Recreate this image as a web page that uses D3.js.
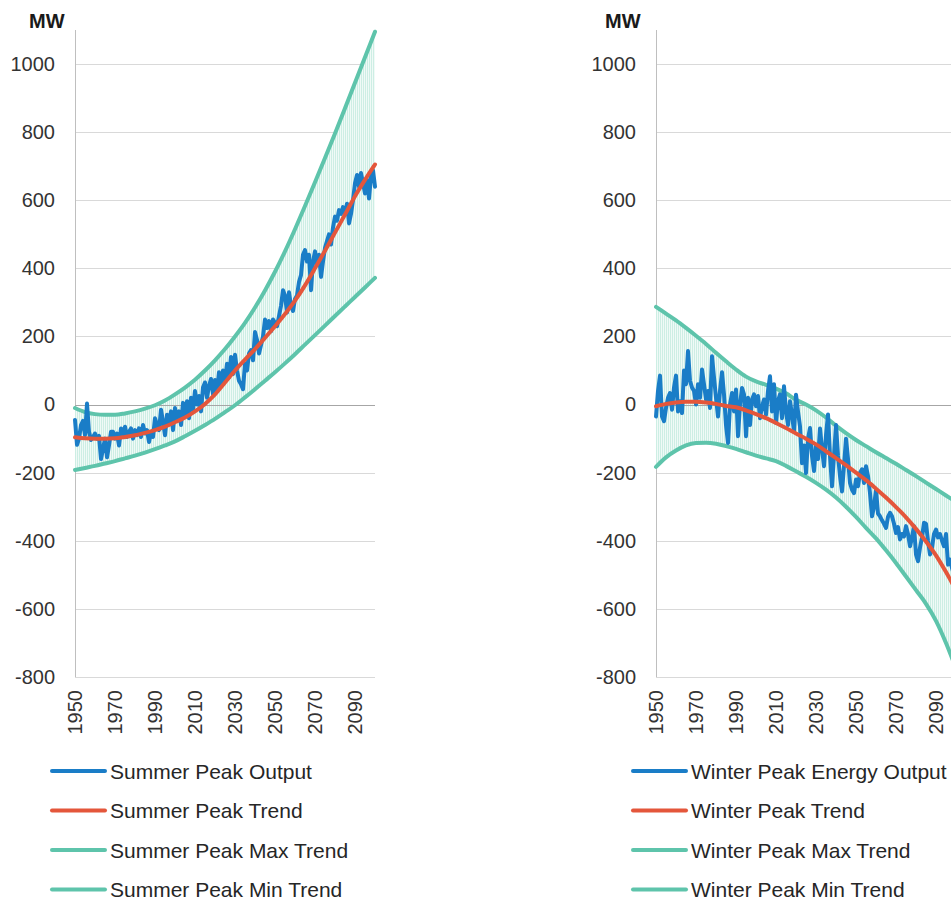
<!DOCTYPE html>
<html>
<head>
<meta charset="utf-8">
<script src="https://cdn.jsdelivr.net/npm/d3@7"></script>
<style>
  body { margin: 0; background: #ffffff; }
  text { font-family: "Liberation Sans", Arial, sans-serif; }
</style>
</head>
<body>
<svg id="chart" width="951" height="901"></svg>
<script>
// ---- data -------------------------------------------------------------
const startYear = 1950;
const endYear = 2100;
const yTicks = [-800, -600, -400, -200, 0, 200, 400, 600, 800, 1000];
const yearTicks = [1950, 1970, 1990, 2010, 2030, 2050, 2070, 2090];

// trend curves sampled every five years
const trendYears = [1950, 1955, 1960, 1965, 1970, 1975, 1980, 1985, 1990, 1995,
  2000, 2005, 2010, 2015, 2020, 2025, 2030, 2035, 2040, 2045,
  2050, 2055, 2060, 2065, 2070, 2075, 2080, 2085, 2090, 2095, 2100];

// annual summer peak output, 1950-2100 (MW)
const summerOutput = [
  -45, -118, -100, -60, -48, -90, 3, -80, -104, -95,
  -85, -100, -92, -160, -130, -100, -155, -120, -80, -80,
  -100, -85, -120, -70, -90, -65, -95, -80, -70, -100,
  -75, -90, -70, -95, -60, -85, -75, -110, -80, -95,
  -40, -60, -75, -15, -50, -90, -30, -55, -20, -75,
  -10, -45, -20, -60, 5, -30, 10, -40, 20, -15,
  40, 0, 25, -20, 50, 65, 20, 55, 75, 30,
  72, 40, 95, 55, 100, 70, 120, 80, 140, 90,
  146, 100, 70, 60, 45, 120, 100, 150, 160, 130,
  213, 190, 150, 175, 200, 250, 225, 245, 215, 250,
  240, 230, 260, 290, 336, 320, 270, 330, 290, 275,
  310, 320, 360, 380, 440, 454, 420, 440, 336, 420,
  450, 410, 440, 375, 420, 460, 480, 500, 470, 520,
  552, 540, 571, 560, 580, 560, 590, 532, 560, 600,
  650, 674, 640, 680, 650, 620, 660, 605, 670, 688,
  640
];
const summerTrend = [-96, -99, -100, -100, -99, -95, -90, -83, -75, -65,
  -52, -38, -20, 2, 30, 65, 100, 132, 163, 196,
  230, 266, 305, 350, 400, 452, 505, 558, 612, 660, 705];
const summerMax = [-10, -22, -28, -30, -30, -26, -20, -12, -2, 12,
  30, 50, 73, 100, 130, 163, 200, 240, 285, 335,
  390, 450, 515, 583, 653, 724, 796, 870, 945, 1020, 1095];
const summerMin = [-192, -186, -180, -173, -166, -158, -150, -141, -131, -120,
  -108, -93, -77, -60, -42, -22, -2, 21, 45, 70,
  95, 121, 148, 176, 204, 232, 260, 288, 316, 344, 372];

// annual winter peak energy output, 1950-2100 (MW)
const winterOutput = [
  -35, 40, 85, -35, -49, -10, 20, 34, -15, 50,
  85, -20, 10, -25, 100, 60, 157, 70, 50, 40,
  0, 60, 20, 103, 60, 15, 40, -10, 142, 80,
  20, -35, 40, 95, 30, -60, -113, 0, 34, -20,
  44, -93, 0, 49, 30, -93, 20, -60, 15, 30,
  -5, 25, -40, -5, 15, -30, 40, 83, -20, 60,
  -54, 10, 30, -40, 54, -20, -60, 10, -30, -80,
  29, -20, -64, -172, -120, -201, -100, -69, -150, -195,
  -120, -160, -70, -130, -181, -90, -29, -150, -240, -150,
  -60, -150, -210, -255, -180, -100, -160, -230, -250, -260,
  -220, -240, -200, -190, -230, -181, -210, -260, -328, -300,
  -250, -320, -328, -340, -350, -362, -330, -318, -328, -350,
  -377, -360, -396, -380, -387, -357, -380, -416, -390, -357,
  -440, -460, -420, -390, -347, -350, -400, -440, -420, -380,
  -367, -390, -380, -400, -416, -380, -470, -455, -480, -500,
  -510
];
const winterTrend = [-5, 2, 6, 8, 8, 6, 2, -4, -8, -17,
  -28, -40, -54, -69, -85, -100, -117, -137, -157, -178,
  -200, -222, -247, -273, -301, -331, -365, -402, -443, -492, -545];
const winterMax = [287, 267, 247, 225, 202, 178, 152, 127, 103, 82,
  68, 58, 47, 33, 14, 0, -17, -38, -62, -84,
  -104, -122, -140, -157, -174, -192, -210, -229, -248, -267, -286];
const winterMin = [-183, -155, -135, -120, -113, -112, -115, -122, -130, -140,
  -150, -158, -166, -180, -196, -212, -230, -250, -273, -300,
  -330, -362, -393, -428, -465, -505, -545, -585, -635, -700, -775];

const summerLabels = ["Summer Peak Output", "Summer Peak Trend", "Summer Peak Max Trend", "Summer Peak Min Trend"];
const winterLabels = ["Winter Peak Energy Output", "Winter Peak Trend", "Winter Peak Max Trend", "Winter Peak Min Trend"];

// ---- styling ----------------------------------------------------------
const colors = { output: "#1a7dc7", trend: "#e4563b", band: "#5ec4ab", hilo: "#cdeee4", bandFill: "#f0faf7" };
const svg = d3.select("#chart");
const yTop = 30, yBottom = 677, plotW = 300;
const y = d3.scaleLinear().domain([-800, 1100]).range([yBottom, yTop]);
const defs = svg.append("defs");

function drawPanel(id, left, mwX, output, trend, maxT, minT, labels) {
  const g = svg.append("g").attr("transform", `translate(${left},0)`);
  const x = d3.scaleLinear().domain([startYear, endYear]).range([0, plotW]);

  // horizontal gridlines
  g.append("g").selectAll("line").data(yTicks.filter(d => d !== 0)).join("line")
    .attr("x1", 0).attr("x2", plotW)
    .attr("y1", d => Math.round(y(d)) + 0.5).attr("y2", d => Math.round(y(d)) + 0.5)
    .attr("stroke", "#d9d9d9").attr("stroke-width", 1);

  // value axis labels
  const yAxis = d3.axisLeft(y).tickValues(yTicks).tickSize(0).tickPadding(20)
    .tickFormat(d => String(d));
  const ya = g.append("g").call(yAxis);
  ya.select(".domain").remove();
  ya.selectAll("text").attr("font-size", 20).attr("fill", "#333333")
    .attr("font-family", "'Liberation Sans', Arial, sans-serif");

  // band between min and max trend, with one high-low line per year
  const pts = trendYears.map((yr, i) => ({ yr, lo: minT[i], hi: maxT[i] }));
  const bandArea = d3.area().x(d => x(d.yr)).y0(d => y(d.lo)).y1(d => y(d.hi)).curve(d3.curveMonotoneX);
  g.append("path").datum(pts).attr("d", bandArea).attr("fill", colors.bandFill);
  defs.append("clipPath").attr("id", "band-" + id)
    .append("path").datum(pts)
    .attr("transform", `translate(${left},0)`)
    .attr("d", bandArea);
  svg.append("g").attr("clip-path", `url(#band-${id})`)
    .append("g").attr("transform", `translate(${left},0)`)
    .selectAll("line").data(output).join("line")
    .attr("x1", (d, i) => x(startYear + i) + 0.5).attr("x2", (d, i) => x(startYear + i) + 0.5)
    .attr("y1", yTop).attr("y2", yBottom)
    .attr("stroke", colors.hilo).attr("stroke-width", 1);

  // vertical axis line and zero line
  g.append("line").attr("x1", 0.5).attr("x2", 0.5).attr("y1", yTop).attr("y2", yBottom)
    .attr("stroke", "#bfbfbf").attr("stroke-width", 1);
  const zg = svg.append("g").attr("transform", `translate(${left},0)`);
  zg.append("line").attr("x1", 0).attr("x2", plotW)
    .attr("y1", Math.round(y(0)) + 0.5).attr("y2", Math.round(y(0)) + 0.5)
    .attr("stroke", "#a6a6a6").attr("stroke-width", 1);

  // year labels (rotated)
  zg.append("g").selectAll("text").data(yearTicks).join("text")
    .attr("transform", d => `translate(${x(d)},${yBottom + 13}) rotate(-90)`)
    .attr("text-anchor", "end").attr("dominant-baseline", "central")
    .attr("font-size", 20).attr("fill", "#333333")
    .text(d => d);

  const trendLine = vals => d3.line()
    .x((d, i) => x(trendYears[i])).y(d => y(d)).curve(d3.curveMonotoneX)(vals);

  // max / min trend lines
  [maxT, minT].forEach(vals => {
    zg.append("path").attr("d", trendLine(vals))
      .attr("fill", "none").attr("stroke", colors.band).attr("stroke-width", 4)
      .attr("stroke-linejoin", "round").attr("stroke-linecap", "round");
  });

  // annual output
  zg.append("path")
    .attr("d", d3.line().x((d, i) => x(startYear + i)).y(d => y(d))(output))
    .attr("fill", "none").attr("stroke", colors.output).attr("stroke-width", 4)
    .attr("stroke-linejoin", "round").attr("stroke-linecap", "round");

  // trend
  zg.append("path").attr("d", trendLine(trend))
    .attr("fill", "none").attr("stroke", colors.trend).attr("stroke-width", 4)
    .attr("stroke-linejoin", "round").attr("stroke-linecap", "round");

  // unit label
  svg.append("text").attr("x", mwX).attr("y", 28)
    .attr("font-size", 20).attr("font-weight", "bold").attr("fill", "#1a1a1a")
    .text("MW");

  // legend
  const legColors = [colors.output, colors.trend, colors.band, colors.band];
  const rows = [771, 810.5, 850, 889.5];
  const lg = svg.append("g");
  labels.forEach((lab, i) => {
    lg.append("line").attr("x1", left - 23).attr("x2", left + 30)
      .attr("y1", rows[i]).attr("y2", rows[i])
      .attr("stroke", legColors[i]).attr("stroke-width", 4).attr("stroke-linecap", "round");
    lg.append("text").attr("x", left + 35).attr("y", rows[i])
      .attr("dominant-baseline", "central").attr("font-size", 21).attr("fill", "#262626")
      .text(lab);
  });
}

drawPanel("summer", 75, 29, summerOutput, summerTrend, summerMax, summerMin, summerLabels);
drawPanel("winter", 656, 605, winterOutput, winterTrend, winterMax, winterMin, winterLabels);
</script>
</body>
</html>
